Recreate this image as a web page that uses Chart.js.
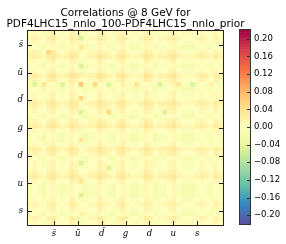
<!DOCTYPE html>
<html><head><meta charset="utf-8">
<script src="https://cdn.jsdelivr.net/npm/chart.js@4.4.0/dist/chart.umd.min.js"></script>
<style>
html,body{margin:0;padding:0;background:#fff;}
#wrap{position:relative;width:286px;height:244px;}
canvas{position:absolute;left:0;top:0;}
</style>
</head><body>
<div id="wrap"><canvas id="heat" width="286" height="244"></canvas><canvas id="cbar" width="286" height="244"></canvas></div>
<script>
const flavorLabels = ['s\u0304','u\u0304','d\u0304','g','d','u','s'];
const binsPerFlavor = 6;
const titleLines = ['Correlations @ 8 GeV for', 'PDF4LHC15_nnlo_100-PDF4LHC15_nnlo_prior'];
const colorbarTicks = [-0.20,-0.16,-0.12,-0.08,-0.04,0,0.04,0.08,0.12,0.16,0.20];
const colorMin = -0.2, colorMax = 0.2;
// estimated correlation differences in units of corrUnit; row = y bin from top, column = x bin from left
const corrUnit = 0.0075;
const corrLevels = [
[0,1,0,-1,1,2, 0,-1,0,2,1,-1, -1,0,0,2,1,0, -1,1,2,0,-1,-1, 0,2,1,-1,0,0, 1,2,0,-1,-1,-1, 0,1,0,-1,1,0],
[1,2,1,0,2,3, 1,0,1,3,2,-6, 0,1,1,3,2,1, 0,2,3,1,0,0, 1,3,2,0,1,1, 2,3,1,0,0,0, 1,2,1,0,2,1],
[0,1,0,-1,1,2, 0,-1,0,2,1,-1, -1,0,0,2,1,0, -1,1,2,0,-1,-1, 0,2,1,-1,0,0, 1,2,0,-1,-1,-1, 0,1,0,-1,1,0],
[-1,0,-1,-2,0,1, -1,-2,-1,1,0,4, -2,-1,-1,1,0,-1, -2,0,1,-1,-2,-2, -1,1,0,-2,-1,-1, 0,1,-1,-2,-2,-2, -1,0,-1,-2,0,-1],
[1,2,1,0,6,3, 1,0,1,3,2,-1, 0,1,1,3,2,1, 0,2,3,1,0,0, 1,3,2,0,1,1, 2,3,1,0,0,0, 1,2,1,0,2,1],
[2,3,2,1,3,4, 2,1,2,4,3,0, 1,2,2,4,3,2, 1,3,4,2,1,1, 2,4,3,1,2,2, 3,4,2,1,1,1, 2,3,2,1,3,2],
[0,1,0,-1,1,2, 0,-1,0,2,1,-1, -1,0,0,2,1,0, -1,1,2,0,-1,-1, 0,2,1,-1,0,0, 1,2,0,-1,-1,-1, 0,1,0,-1,1,0],
[-1,0,-1,-2,0,1, -1,-2,-1,1,0,-6, -2,-1,-1,1,0,-1, -2,0,1,-1,-2,-2, -1,1,0,-2,-1,-1, 0,1,-1,-2,-2,-2, -1,0,-1,-2,0,-1],
[0,1,0,-1,1,2, 0,-1,0,2,1,-1, -1,0,0,2,1,0, -1,1,2,0,-1,-1, 0,2,1,-1,0,0, 1,2,0,-1,-1,-1, 0,1,0,-1,1,0],
[2,3,2,1,3,4, 2,1,2,4,3,2, 1,2,2,4,3,2, 1,3,4,2,1,1, 2,4,3,1,2,2, 3,4,2,1,1,1, 2,3,2,1,3,2],
[1,2,1,0,2,3, 1,0,1,3,2,0, 0,1,1,3,2,1, 0,2,3,1,0,0, 1,3,2,0,1,1, 2,3,1,0,0,0, 1,2,1,0,2,1],
[-1,-6,-1,4,-1,0, -1,-6,-1,2,0,8, -1,0,6,0,-1,-6, -1,0,2,-1,-1,4, -1,0,-1,-1,-6,-1, 0,2,4,-1,-1,-6, -1,0,-1,2,-1,-1],
[-1,0,-1,-2,0,1, -1,-2,-1,1,0,-1, -2,-1,-1,1,0,-1, -2,0,1,-1,-2,-2, -1,1,0,-2,-1,-1, 0,1,-1,-2,-2,-2, -1,0,-1,-2,0,-1],
[0,1,0,-1,1,2, 0,-1,0,2,1,0, -1,0,0,2,1,0, -1,1,2,0,-1,-1, 0,2,1,-1,0,0, 1,2,0,-1,-1,-1, 0,1,0,-1,1,0],
[0,1,0,-1,1,2, 0,-1,0,2,1,6, -1,0,0,2,1,0, -1,1,2,0,-1,-1, 0,2,1,-1,0,0, 1,2,0,-1,-1,-1, 0,1,0,-1,1,0],
[2,3,2,1,3,4, 2,1,2,4,3,0, 1,2,2,4,3,2, 1,3,4,2,1,1, 2,4,3,1,2,2, 3,4,2,1,1,1, 2,3,2,1,3,2],
[1,2,1,0,2,3, 1,0,1,3,2,-1, 0,1,1,3,2,1, 0,2,3,1,0,0, 1,3,2,0,1,1, 2,3,1,0,0,0, 1,2,1,0,2,1],
[0,1,0,-1,1,2, 0,-1,0,2,1,-6, -1,0,0,2,1,6, -1,1,2,0,-1,-1, 0,2,1,-1,0,-6, 1,2,0,-1,-1,-1, 0,1,0,-1,1,0],
[-1,0,-1,-2,0,1, -1,-2,-1,1,0,-1, -2,-1,-1,1,0,-1, -2,0,1,-1,-2,-2, -1,1,0,-2,-1,-1, 0,1,-1,-2,-2,-2, -1,0,-1,-2,0,-1],
[1,2,1,0,2,3, 1,0,1,3,2,0, 0,1,1,3,2,1, 0,2,3,1,0,0, 1,3,2,0,1,1, 2,3,1,0,0,0, 1,2,1,0,2,1],
[2,3,2,1,3,4, 2,1,2,4,3,2, 1,2,2,4,3,2, 1,3,4,2,1,1, 2,4,3,1,2,2, 3,4,2,1,1,1, 2,3,2,1,3,2],
[0,1,0,-1,1,2, 0,-1,0,2,1,-1, -1,0,0,2,1,0, -1,1,2,0,-1,-1, 0,2,1,-1,0,0, 1,2,0,-1,-1,-1, 0,1,0,-1,1,0],
[-1,0,-1,-2,0,1, -1,-2,-1,1,0,-1, -2,-1,-1,1,0,-1, -2,0,1,-1,-2,-2, -1,1,0,-2,-1,-1, 0,1,-1,-2,-2,-2, -1,0,-1,-2,0,-1],
[-1,0,-1,-2,0,1, -1,-2,-1,1,0,4, -2,-1,-1,1,0,-1, -2,0,1,-1,-2,-2, -1,1,0,-2,-1,-1, 0,1,-1,-2,-2,-2, -1,0,-1,-2,0,-1],
[0,1,0,-1,1,2, 0,-1,0,2,1,-1, -1,0,0,2,1,0, -1,1,2,0,-1,-1, 0,2,1,-1,0,0, 1,2,0,-1,-1,-1, 0,1,0,-1,1,0],
[2,3,2,1,3,4, 2,1,2,4,3,0, 1,2,2,4,3,2, 1,3,4,2,1,1, 2,4,3,1,2,2, 3,4,2,1,1,1, 2,3,2,1,3,2],
[1,2,1,0,2,3, 1,0,1,3,2,-1, 0,1,1,3,2,1, 0,2,3,1,0,0, 1,3,2,0,1,1, 2,3,1,0,0,0, 1,2,1,0,2,1],
[-1,0,-1,-2,0,1, -1,-2,-1,1,0,-1, -2,-1,-1,1,0,-1, -2,0,1,-1,-2,-2, -1,1,0,-2,-1,-1, 0,1,-1,-2,-2,-2, -1,0,-1,-2,0,-1],
[0,1,0,-1,1,2, 0,-1,0,2,1,-6, -1,0,0,2,1,0, -1,1,2,0,-1,-1, 0,2,1,-1,0,0, 1,2,0,-1,-1,-1, 0,1,0,-1,1,0],
[0,1,0,-1,1,2, 0,-1,0,2,1,-1, -1,0,0,2,1,-6, -1,1,2,0,-1,-1, 0,2,1,-1,0,0, 1,2,0,-1,-1,-1, 0,1,0,-1,1,0],
[1,2,1,0,2,3, 1,0,1,3,2,0, 0,1,1,3,2,1, 0,2,3,1,0,0, 1,3,2,0,1,1, 2,3,1,0,0,0, 1,2,1,0,2,1],
[2,3,2,1,3,4, 2,1,2,4,3,2, 1,2,2,4,3,2, 1,3,4,2,1,1, 2,4,3,1,2,2, 3,4,2,1,1,1, 2,3,2,1,3,2],
[0,1,0,-1,1,2, 0,-1,0,2,1,4, -1,0,0,2,1,0, -1,1,2,0,-1,-1, 0,2,1,-1,0,0, 1,2,0,-1,-1,-1, 0,1,0,-1,1,0],
[-1,0,-1,-2,0,1, -1,-2,-1,1,0,-1, -2,-1,-1,1,0,-1, -2,0,1,-1,-2,-2, -1,1,0,-2,-1,-1, 0,1,-1,-2,-2,-2, -1,0,-1,-2,0,-1],
[-1,0,-1,-2,0,1, -1,-2,-1,1,0,-1, -2,-1,-1,1,0,-1, -2,0,1,-1,-2,-2, -1,1,0,-2,-1,-1, 0,1,-1,-2,-2,-2, -1,0,-1,-2,0,-1],
[-1,0,-1,-2,0,1, -1,-2,-1,1,0,-6, -2,-1,-1,1,0,-1, -2,0,1,-1,-2,-2, -1,1,0,-2,-1,-1, 0,1,-1,-2,-2,-2, -1,0,-1,-2,0,-1],
[0,1,0,-1,1,2, 0,-1,0,2,1,-1, -1,0,0,2,1,0, -1,1,2,0,-1,-1, 0,2,1,-1,0,0, 1,2,0,-1,-1,-1, 0,1,0,-1,1,0],
[1,2,1,0,2,3, 1,0,1,3,2,0, 0,1,1,3,2,1, 0,2,3,1,0,0, 1,3,2,0,1,1, 2,3,1,0,0,0, 1,2,1,0,2,1],
[0,1,0,-1,1,2, 0,-1,0,2,1,-1, -1,0,0,2,1,0, -1,1,2,0,-1,-1, 0,2,1,-1,0,0, 1,2,0,-1,-1,-1, 0,1,0,-1,1,0],
[-1,0,-1,-2,0,1, -1,-2,-1,1,0,2, -2,-1,-1,1,0,-1, -2,0,1,-1,-2,-2, -1,1,0,-2,-1,-1, 0,1,-1,-2,-2,-2, -1,0,-1,-2,0,-1],
[1,2,1,0,2,3, 1,0,1,3,2,-1, 0,1,1,3,2,1, 0,2,3,1,0,0, 1,3,2,0,1,1, 2,3,1,0,0,0, 1,2,1,0,2,1],
[0,1,0,-1,1,2, 0,-1,0,2,1,-1, -1,0,0,2,1,0, -1,1,2,0,-1,-1, 0,2,1,-1,0,0, 1,2,0,-1,-1,-1, 0,1,0,-1,1,0]
];

// Spectral_r colormap (matplotlib / ColorBrewer stops)
const spectralStops = ['#9e0142','#d53e4f','#f46d43','#fdae61','#fee08b','#ffffbf','#e6f598','#abdda4','#66c2a5','#3288bd','#5e4fa2'];
const stopRgb = spectralStops.map(h => [parseInt(h.slice(1,3),16), parseInt(h.slice(3,5),16), parseInt(h.slice(5,7),16)]);
function spectral(v) {
  let t = (colorMax - v) / (colorMax - colorMin);
  t = Math.max(0, Math.min(1, t));
  const pos = t * (stopRgb.length - 1);
  const i = Math.min(stopRgb.length - 2, Math.floor(pos));
  const f = pos - i;
  const a = stopRgb[i], b = stopRgb[i + 1];
  const c = a.map((x, k) => Math.round(x + (b[k] - x) * f));
  return 'rgb(' + c.join(',') + ')';
}

Chart.defaults.font.family = 'DejaVu Sans';
Chart.defaults.color = '#000';

const nBins = flavorLabels.length * binsPerFlavor;
const binLabels = Array.from({length: nBins}, (_, j) => String(j));
const flavorCenters = flavorLabels.map((_, k) => k * binsPerFlavor + binsPerFlavor / 2);

const heatFrame = {
  id: 'heatFrame',
  afterDraw(chart) {
    const {ctx, chartArea: a, scales} = chart;
    ctx.save();
    // title, centred over the plot, two lines
    ctx.fillStyle = '#000';
    ctx.font = '10.5px "DejaVu Sans"';
    ctx.textAlign = 'center';
    ctx.textBaseline = 'alphabetic';
    const cx = (a.left + a.right) / 2;
    ctx.fillText(titleLines[0], cx, 15.5);
    ctx.fillText(titleLines[1], cx, 27);
    // frame and inward ticks
    ctx.strokeStyle = '#222';
    ctx.lineWidth = 1;
    ctx.strokeRect(a.left - 0.5, a.top - 0.5, a.right - a.left + 1, a.bottom - a.top + 1);
    ctx.beginPath();
    flavorLabels.forEach((_, k) => {
      const x = Math.round(scales.xf.getPixelForValue(k + 0.5)) + 0.5;
      ctx.moveTo(x, a.bottom); ctx.lineTo(x, a.bottom - 4);
      ctx.moveTo(x, a.top); ctx.lineTo(x, a.top + 4);
      const y = Math.round(scales.y.getPixelForValue(flavorCenters[k])) + 0.5;
      ctx.moveTo(a.left, y); ctx.lineTo(a.left + 4, y);
      ctx.moveTo(a.right, y); ctx.lineTo(a.right - 4, y);
    });
    ctx.stroke();
    ctx.restore();
  }
};

new Chart(document.getElementById('heat'), {
  type: 'bar',
  data: {
    labels: binLabels,
    datasets: corrLevels.map((row, i) => ({
      data: row.map(() => [i, i + 1]),
      backgroundColor: row.map(v => spectral(v * corrUnit)),
      borderWidth: 0,
      grouped: false,
      barPercentage: 1,
      categoryPercentage: 1
    }))
  },
  options: {
    responsive: false,
    animation: false,
    events: [],
    layout: {padding: {left: 0, right: 63, top: 31, bottom: 0}},
    scales: {
      x: {type: 'category', display: false},
      xf: {
        type: 'linear', position: 'bottom', min: 0, max: flavorLabels.length,
        afterBuildTicks: s => { s.ticks = flavorLabels.map((_, k) => ({value: k + 0.5})); },
        afterFit: s => { s.height = 19; },
        grid: {display: false, drawTicks: false},
        border: {display: false},
        ticks: {autoSkip: false, maxRotation: 0, padding: 4, color: '#000',
          font: {family: 'DejaVu Serif', style: 'italic', size: 8.5},
          callback: (v, i) => flavorLabels[i]}
      },
      y: {
        type: 'linear', reverse: true, min: 0, max: nBins,
        afterBuildTicks: s => { s.ticks = flavorCenters.map(v => ({value: v})); },
        afterFit: s => { s.width = 28; },
        grid: {display: false, drawTicks: false},
        border: {display: false},
        ticks: {autoSkip: false, padding: 5, color: '#000',
          font: {family: 'DejaVu Serif', style: 'italic', size: 8.5},
          callback: (v, i) => flavorLabels[i]}
      }
    },
    plugins: {
      legend: {display: false},
      tooltip: {enabled: false},
      title: {display: false}
    }
  },
  plugins: [heatFrame]
});

// colour bar
const cbSteps = 80;
const cbLevels = Array.from({length: cbSteps}, (_, k) => colorMax - (k + 0.5) * (colorMax - colorMin) / cbSteps);
const cbFrame = {
  id: 'cbFrame',
  afterDraw(chart) {
    const {ctx, chartArea: a, scales} = chart;
    ctx.save();
    ctx.strokeStyle = '#333';
    ctx.lineWidth = 1;
    ctx.strokeRect(a.left - 0.5, a.top - 0.5, a.right - a.left + 1, a.bottom - a.top + 1);
    ctx.beginPath();
    colorbarTicks.forEach(v => {
      const y = Math.round(scales.cb.getPixelForValue(v)) + 0.5;
      ctx.moveTo(a.right, y); ctx.lineTo(a.right - 3, y);
    });
    ctx.stroke();
    ctx.restore();
  }
};
new Chart(document.getElementById('cbar'), {
  type: 'bar',
  data: {
    labels: cbLevels.map(String),
    datasets: [{
      data: cbLevels.map(() => [0, 1]),
      backgroundColor: cbLevels.map(spectral),
      borderWidth: 0,
      barPercentage: 1,
      categoryPercentage: 1
    }]
  },
  options: {
    indexAxis: 'y',
    responsive: false,
    animation: false,
    events: [],
    layout: {padding: {left: 240, right: 0, top: 30, bottom: 20}},
    scales: {
      y: {type: 'category', display: false},
      x: {type: 'linear', display: false, min: 0, max: 1},
      cb: {
        type: 'linear', axis: 'y', position: 'right', min: colorMin, max: colorMax,
        afterBuildTicks: s => { s.ticks = colorbarTicks.map(v => ({value: v})); },
        afterFit: s => { s.width = 36; },
        grid: {display: false, drawTicks: false},
        border: {display: false},
        ticks: {autoSkip: false, padding: 4, color: '#000',
          font: {family: 'DejaVu Sans', size: 8.5},
          callback: v => (v < -1e-9 ? '\u2212' : '') + Math.abs(v).toFixed(2)}
      }
    },
    plugins: {legend: {display: false}, tooltip: {enabled: false}}
  },
  plugins: [cbFrame]
});
</script>
</body></html>
